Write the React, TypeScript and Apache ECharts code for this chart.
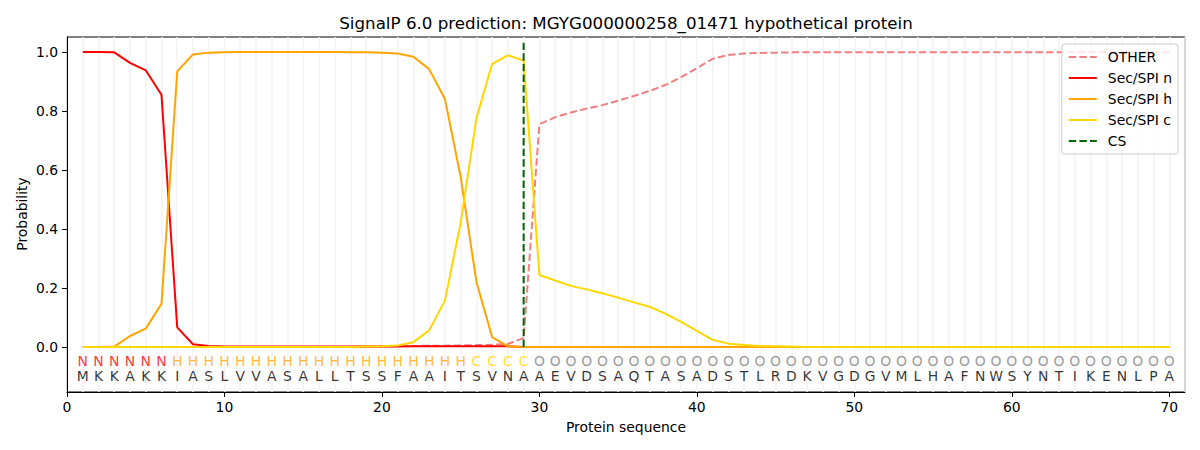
import React, { useEffect, useRef } from "react";
import * as echarts from "echarts";

const sequence = "MKKAKKIASLVVASALLTSSFAAITSVNAAEVDSAQTASADSTLRDKVGDGVMLHAFNWSYNTIKENLPA".split("");
const regionLabels = "NNNNNNHHHHHHHHHHHHHHHHHHHCCCCOOOOOOOOOOOOOOOOOOOOOOOOOOOOOOOOOOOOOOOOO".split("");

const otherProb = [
  0, 0, 0, 0, 0, 0, 0, 0, 0, 0,
  0, 0, 0, 0, 0, 0, 0, 0, 0.001, 0.002,
  0.003, 0.003, 0.004, 0.004, 0.005, 0.006, 0.007, 0.01, 0.03, 0.755,
  0.779, 0.795, 0.808, 0.82, 0.835, 0.851, 0.868, 0.888, 0.915, 0.945,
  0.977, 0.99, 0.995, 0.997, 0.998, 0.999, 0.999, 0.999, 0.999, 0.999,
  0.999, 0.999, 0.999, 0.999, 0.999, 0.999, 0.999, 0.999, 0.999, 0.999,
  0.999, 0.999, 0.999, 0.999, 0.999, 0.999, 0.999, 0.999, 0.999, 0.999,
];
const secN = [
  1.0, 1.0, 0.999, 0.963, 0.938, 0.855, 0.066, 0.009, 0.003, 0.001,
  0.001, 0.001, 0.001, 0.001, 0.001, 0.001, 0.001, 0.001, 0.001, 0.001,
  0.001, 0.002, 0.002, 0.002, 0.002, 0.002, 0.002, 0.002, 0, 0,
  0, 0, 0, 0, 0, 0, 0, 0, 0, 0,
  0, 0, 0, 0, 0, 0, 0, 0, 0, 0,
  0, 0, 0, 0, 0, 0, 0, 0, 0, 0,
  0, 0, 0, 0, 0, 0, 0, 0, 0, 0,
];
const secH = [
  0, 0, 0.001, 0.037, 0.062, 0.146, 0.934, 0.992, 0.998, 0.999,
  1.0, 1.0, 1.0, 1.0, 1.0, 1.0, 1.0, 0.999, 0.999, 0.998,
  0.995, 0.984, 0.942, 0.841, 0.577, 0.221, 0.033, 0.002, 0, 0,
  0, 0, 0, 0, 0, 0, 0, 0, 0, 0,
  0, 0, 0, 0, 0, 0, 0, 0, 0, 0,
  0, 0, 0, 0, 0, 0, 0, 0, 0, 0,
  0, 0, 0, 0, 0, 0, 0, 0, 0, 0,
];
const secC = [
  0, 0, 0, 0, 0, 0, 0, 0, 0, 0,
  0, 0, 0, 0, 0, 0, 0, 0, 0.001, 0.002,
  0.005, 0.016, 0.056, 0.157, 0.42, 0.775, 0.96, 0.989, 0.971, 0.244,
  0.225, 0.207, 0.195, 0.182, 0.167, 0.151, 0.136, 0.113, 0.085, 0.054,
  0.024, 0.011, 0.006, 0.003, 0.002, 0.001, 0, 0, 0, 0,
  0, 0, 0, 0, 0, 0, 0, 0, 0, 0,
  0, 0, 0, 0, 0, 0, 0, 0, 0, 0,
];
const cleavageSite = 29;
const xTicks = [0, 10, 20, 30, 40, 50, 60, 70];
const yTicks = [0, 0.2, 0.4, 0.6, 0.8, 1.0];

const labelColors: Record<string, string> = {
  N: "#ff0000",
  H: "#ffa500",
  C: "#ffd700",
  O: "#808080",
};

const FONT = "DejaVu Sans";

export default function App() {
  const ref = useRef<HTMLDivElement>(null);

  useEffect(() => {
    if (!ref.current) return;
    const chart = echarts.init(ref.current, undefined, { renderer: "svg" });
    const toPts = (arr: number[]) => arr.map((v, i) => [i + 1, v]);
    const lineSeries = (name: string, arr: number[], color: string, dashed = false) => ({
      name,
      type: "line",
      data: toPts(arr),
      symbol: "none",
      xAxisIndex: 0,
      yAxisIndex: 0,
      lineStyle: { color, width: 2, type: dashed ? [7.4, 3.2] : "solid" },
      itemStyle: { color },
      silent: true,
    });
    const textSeries = (letters: string[], y: number, colorOf: (s: string) => string) => ({
      type: "scatter",
      xAxisIndex: 0,
      yAxisIndex: 0,
      symbolSize: 1,
      silent: true,
      itemStyle: { color: "rgba(0,0,0,0)" },
      data: letters.map((s, i) => ({
        value: [i + 1, y],
        name: s,
        label: { color: colorOf(s) },
      })),
      label: {
        show: true,
        position: "inside",
        formatter: (p: any) => p.name,
        fontFamily: FONT,
        fontSize: 13.9,
      },
    });

    chart.setOption({
      animation: false,
      textStyle: { fontFamily: FONT },
      grid: {
        left: 67,
        right: 15,
        top: 37,
        bottom: 58,
        show: true,
        borderColor: "#000",
        borderWidth: 1,
        backgroundColor: "rgba(0,0,0,0)",
      },
      xAxis: [
        {
          type: "value",
          min: 0,
          max: 71,
          interval: 10,
          axisLine: { show: true, onZero: false, lineStyle: { color: "#000", width: 1 } },
          axisTick: { show: true, length: 5, lineStyle: { color: "#000" }, customValues: xTicks },
          axisLabel: { color: "#000", fontSize: 13.9, fontFamily: FONT, margin: 8, customValues: xTicks },
          splitLine: { show: false },
        },
        {
          type: "value",
          min: 0,
          max: 71,
          interval: 1,
          position: "bottom",
          axisLine: { show: false },
          axisTick: { show: false },
          axisLabel: { show: false },
          splitLine: { show: true, lineStyle: { color: "#f3f3f3", width: 1.5 } },
        },
      ],
      yAxis: {
        type: "value",
        min: -0.153,
        max: 1.051,
        axisLine: { show: true, onZero: false, lineStyle: { color: "#000", width: 1 } },
        axisTick: { show: true, length: 5, lineStyle: { color: "#000" }, customValues: yTicks },
        axisLabel: {
          color: "#000",
          fontSize: 13.9,
          fontFamily: FONT,
          margin: 9,
          customValues: yTicks,
          formatter: (v: number) => v.toFixed(1),
        },
        splitLine: { show: false },
      },
      legend: {
        orient: "vertical",
        right: 22,
        top: 44,
        itemWidth: 28,
        itemHeight: 14,
        itemGap: 7,
        padding: [6, 6, 6, 6],
        backgroundColor: "rgba(255,255,255,0.8)",
        borderColor: "#cccccc",
        borderWidth: 1,
        borderRadius: 3,
        itemStyle: { opacity: 0 },
        textStyle: { fontFamily: FONT, fontSize: 13.9, color: "#000", padding: [0, 0, 0, 6] },
        data: ["OTHER", "Sec/SPI n", "Sec/SPI h", "Sec/SPI c", "CS"],
      },
      graphic: [
        {
          type: "text",
          x: 626,
          y: 23,
          style: {
            text: "SignalP 6.0 prediction: MGYG000000258_01471 hypothetical protein",
            fontFamily: FONT,
            fontSize: 16.7,
            fill: "#000",
            textAlign: "center",
            textVerticalAlign: "middle",
          },
        },
        {
          type: "text",
          x: 626,
          y: 427,
          style: {
            text: "Protein sequence",
            fontFamily: FONT,
            fontSize: 13.9,
            fill: "#000",
            textAlign: "center",
            textVerticalAlign: "middle",
          },
        },
        {
          type: "text",
          x: 22,
          y: 214,
          rotation: Math.PI / 2,
          style: {
            text: "Probability",
            fontFamily: FONT,
            fontSize: 13.9,
            fill: "#000",
            textAlign: "center",
            textVerticalAlign: "middle",
          },
        },
      ],
      series: [
        lineSeries("OTHER", otherProb, "#f08080", true),
        lineSeries("Sec/SPI n", secN, "#ff0000"),
        lineSeries("Sec/SPI h", secH, "#ffa500"),
        lineSeries("Sec/SPI c", secC, "#ffd700"),
        {
          name: "CS",
          type: "line",
          data: [
            [cleavageSite, 0],
            [cleavageSite, 1.037],
          ],
          symbol: "none",
          silent: true,
          lineStyle: { color: "#006400", width: 2, type: [7.4, 3.2] },
          itemStyle: { color: "#006400" },
        },
        textSeries(regionLabels, -0.0475, (s) => labelColors[s]),
        textSeries(sequence, -0.099, () => "#000"),
      ],
    });
    return () => chart.dispose();
  }, []);

  return (
    <div
      ref={ref}
      style={{ position: "fixed", left: 0, top: 0, width: 1200, height: 450, background: "#fff" }}
    />
  );
}
